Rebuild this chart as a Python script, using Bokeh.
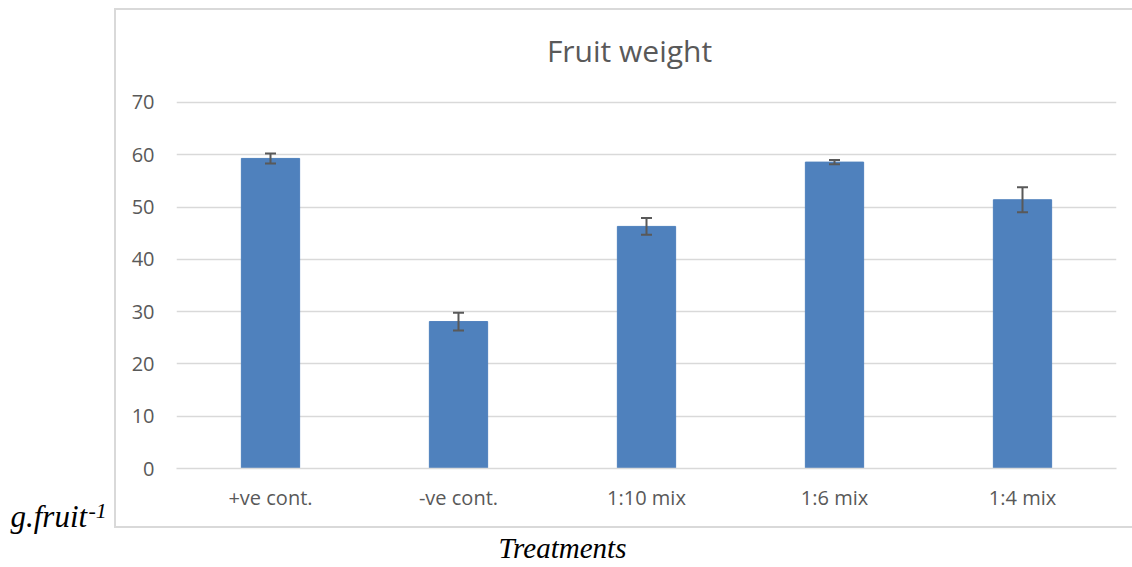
from bokeh.plotting import figure
from bokeh.models import ColumnDataSource, Whisker, TeeHead, Label, FixedTicker
from bokeh.embed import file_html
from bokeh.resources import INLINE

# ---- data ----
treatments = ["+ve cont.", "-ve cont.", "1:10 mix", "1:6 mix", "1:4 mix"]
fruit_weight = [59.3, 28.1, 46.3, 58.6, 51.4]
std_error = [0.95, 1.7, 1.6, 0.4, 2.4]
y_ticks = [0, 10, 20, 30, 40, 50, 60, 70]

title_text = "Fruit weight"
y_label = "g.fruit"
y_label_sup = "-1"
x_label = "Treatments"

GRAY_TEXT = "#595959"
GRID = "#d9d9d9"
BAR = "#4f81bd"

src = ColumnDataSource(dict(
    x=treatments,
    top=fruit_weight,
    upper=[v + e for v, e in zip(fruit_weight, std_error)],
    lower=[v - e for v, e in zip(fruit_weight, std_error)],
))

W, H = 1132, 567
p = figure(x_range=treatments, y_range=(0, 70.38), width=W, height=H,
           output_backend="svg", toolbar_location=None,
           min_border_left=176, min_border_right=16,
           min_border_top=100, min_border_bottom=99)
p.outline_line_color = None
p.background_fill_color = "white"
p.border_fill_color = None

# light-grey chart-area border (Excel chart frame), drawn as the figure's background
line = f"linear-gradient({GRID}, {GRID})"
p.styles = {"background": (f"{line} 114px 8px / 1018px 2px no-repeat, "
                           f"{line} 114px 526px / 1018px 2px no-repeat, "
                           f"{line} 114px 8px / 2px 520px no-repeat, #ffffff")}

p.vbar(x="x", top="top", width=0.31, source=src, fill_color=BAR, line_color=BAR)

w = Whisker(base="x", upper="upper", lower="lower", source=src, level="overlay",
            line_color=GRAY_TEXT, line_width=2,
            upper_head=TeeHead(size=11, line_color=GRAY_TEXT, line_width=2),
            lower_head=TeeHead(size=11, line_color=GRAY_TEXT, line_width=2))
p.add_layout(w)

# axes
p.yaxis.ticker = FixedTicker(ticks=y_ticks)
p.yaxis.axis_line_color = None
p.yaxis.major_tick_line_color = None
p.yaxis.minor_tick_line_color = None
p.yaxis.major_label_standoff = 16
p.yaxis.major_label_text_font = "Open Sans"
p.yaxis.major_label_text_font_size = "20px"
p.yaxis.major_label_text_color = GRAY_TEXT

p.xaxis.axis_line_color = GRID
p.xaxis.axis_line_width = 1.5
p.xaxis.major_tick_line_color = None
p.xaxis.minor_tick_line_color = None
p.xaxis.major_label_standoff = 9
p.xaxis.major_label_text_font = "Open Sans"
p.xaxis.major_label_text_font_size = "20px"
p.xaxis.major_label_text_color = GRAY_TEXT

p.xgrid.grid_line_color = None
p.ygrid.grid_line_color = GRID
p.ygrid.grid_line_width = 1.5

# texts (canvas units, placed in side panels so they are not clipped to the frame)
def lab(side, x, y, text, **kw):
    p.add_layout(Label(x=x, y=y, x_units="canvas", y_units="canvas", text=text,
                       text_baseline="alphabetic", **kw), side)

lab("above", 629, 50, title_text, text_align="center", text_font="Open Sans",
    text_font_size="30px", text_color=GRAY_TEXT)
lab("above", 562, 547, x_label, text_align="center", text_font="Liberation Serif",
    text_font_style="italic", text_font_size="29px", text_color="black")
lab("left", 10, 516, y_label, text_align="left", text_font="Liberation Serif",
    text_font_style="italic", text_font_size="31px", text_color="black")
lab("left", 88, 510, y_label_sup, text_align="left", text_font="Liberation Serif",
    text_font_style="italic", text_font_size="22px", text_color="black")

open("out.html", "w").write(file_html(p, INLINE))
